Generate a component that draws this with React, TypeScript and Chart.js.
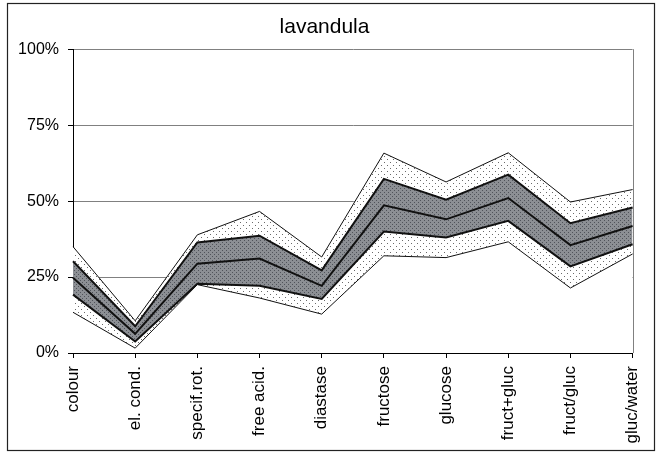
import React, { useEffect, useRef } from "react";
import { Chart, registerables } from "chart.js";

Chart.register(...registerables);

const categories = ["colour", "el. cond.", "specif.rot.", "free acid.", "diastase", "fructose", "glucose", "fruct+gluc", "fruct/gluc", "gluc/water"];
const outerLow = [13.4, 1.6, 22.5, 18.1, 12.8, 32.0, 31.4, 36.6, 21.4, 32.6];
const innerLow = [19.2, 3.8, 22.8, 22.1, 17.8, 40.0, 38.0, 43.5, 28.5, 35.8];
const median = [24.8, 6.3, 29.4, 31.1, 22.1, 48.6, 44.0, 51.0, 35.5, 41.8];
const innerHigh = [30.2, 8.8, 36.4, 38.6, 27.2, 57.3, 50.5, 58.7, 42.7, 47.9];
const outerHigh = [35.0, 10.6, 38.9, 46.6, 31.6, 65.8, 56.3, 65.9, 49.7, 53.8];
const yTicks = [0, 25, 50, 75, 100];
const titleText = "lavandula";

function makePattern(bg: string, dot: string, size: number, dots: number[][]) {
  const c = document.createElement("canvas");
  c.width = size;
  c.height = size;
  const ctx = c.getContext("2d")!;
  ctx.fillStyle = bg;
  ctx.fillRect(0, 0, size, size);
  ctx.fillStyle = dot;
  dots.forEach(([x, y]) => ctx.fillRect(x, y, 1, 1));
  const p = ctx.createPattern(c, "repeat");
  return p as CanvasPattern;
}

const framePlugin = {
  id: "frame",
  afterDatasetsDraw(chart: any) {
    const { ctx, chartArea } = chart;
    ctx.save();
    ctx.strokeStyle = "#808080";
    ctx.lineWidth = 1;
    ctx.beginPath();
    ctx.moveTo(Math.round(chartArea.right) + 0.5, chartArea.top);
    ctx.lineTo(Math.round(chartArea.right) + 0.5, chartArea.bottom);
    ctx.stroke();
    ctx.restore();
  },
  afterDraw(chart: any) {
    const { ctx } = chart;
    ctx.save();
    ctx.strokeStyle = "#222";
    ctx.lineWidth = 1.2;
    ctx.strokeRect(7.5, 3.5, 647, 447);
    ctx.restore();
  },
};

export default function App() {
  const ref = useRef<HTMLCanvasElement>(null);
  useEffect(() => {
    if (!ref.current) return;
    const light = makePattern("#ffffff", "#6a6a6a", 6, [[0, 0], [3, 3]]);
    const dark = makePattern("#8c8f94", "#50535a", 4, [[0, 0], [2, 2]]);
    const chart = new Chart(ref.current, {
      type: "line",
      data: {
        labels: categories,
        datasets: [
          { data: outerLow, borderColor: "#111", borderWidth: 1, fill: "origin", backgroundColor: "#ffffff", pointRadius: 0 },
          { data: innerLow, borderColor: "#111", borderWidth: 2, fill: "-1", backgroundColor: light, pointRadius: 0 },
          { data: median, borderColor: "#111", borderWidth: 2, fill: "-1", backgroundColor: dark, pointRadius: 0 },
          { data: innerHigh, borderColor: "#111", borderWidth: 2, fill: "-1", backgroundColor: dark, pointRadius: 0 },
          { data: outerHigh, borderColor: "#111", borderWidth: 1, fill: "-1", backgroundColor: light, pointRadius: 0 },
        ],
      },
      options: {
        responsive: false,
        animation: false,
        layout: { padding: { left: 0, right: 12, top: 0, bottom: 0 } },
        elements: { line: { tension: 0 } },
        plugins: {
          legend: { display: false },
          tooltip: { enabled: false },
          title: {
            display: true,
            text: titleText,
            color: "#000",
            font: { family: "'Liberation Sans', Arial, sans-serif", size: 21, weight: "normal" },
            padding: { top: 15, bottom: 9 },
          },
        },
        scales: {
          x: {
            type: "category",
            offset: false,
            grid: { drawOnChartArea: false, drawTicks: true, tickLength: 5, tickColor: "#000" },
            border: { color: "#000", width: 1 },
            ticks: {
              color: "#000",
              font: { family: "'Liberation Sans', Arial, sans-serif", size: 17 },
              maxRotation: 90,
              minRotation: 90,
              padding: 8,
              autoSkip: false,
            },
            afterFit(scale: any) {
              scale.height = 101;
            },
          },
          y: {
            min: 0,
            max: 100,
            afterBuildTicks(scale: any) {
              scale.ticks = yTicks.map((v) => ({ value: v }));
            },
            grid: { color: "#808080", lineWidth: 1, drawTicks: true, tickLength: 5, tickColor: "#000" },
            border: { color: "#000", width: 1 },
            ticks: {
              color: "#000",
              font: { family: "'Liberation Sans', Arial, sans-serif", size: 16 },
              padding: 9,
              callback: (v: any) => v + "%",
            },
            afterFit(scale: any) {
              scale.width = 73;
            },
          },
        },
      },
      plugins: [framePlugin],
    });
    return () => chart.destroy();
  }, []);
  return (
    <div style={{ position: "fixed", left: 0, top: 0, width: 661, height: 454, background: "#fff" }}>
      <canvas ref={ref} width={661} height={454} style={{ display: "block" }} />
    </div>
  );
}
